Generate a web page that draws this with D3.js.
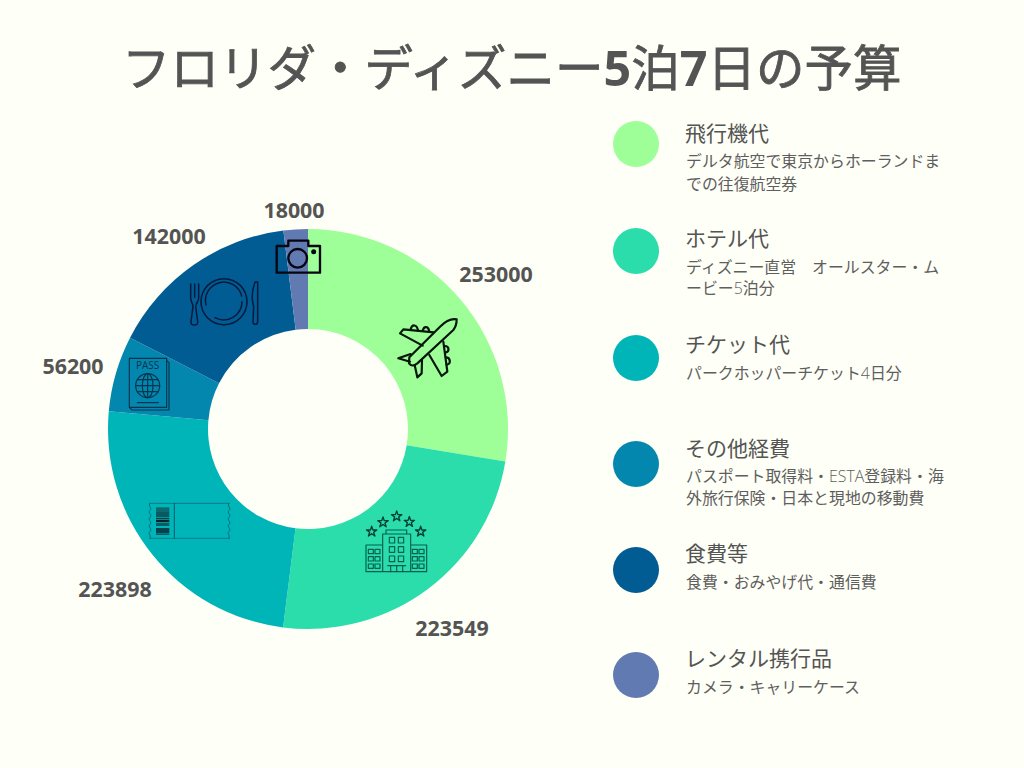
<!DOCTYPE html>
<html><head><meta charset="utf-8">
<script src="https://cdn.jsdelivr.net/npm/d3@7"></script>
<style>
html,body{margin:0;padding:0;background:#fefff6;overflow:hidden}
svg{display:block}
text{font-family:"Noto Sans CJK JP","Noto Sans",sans-serif;fill:#545454}
.num{font-family:"Open Sans",sans-serif;font-weight:700;font-size:21.4px}
.lat{font-family:"Open Sans",sans-serif;font-weight:300}
.desc{fill:#5e5e5e}
</style></head><body>
<svg id="c" width="1024" height="768"></svg>
<script>
const chartTitle = [["フロリダ・ディズニー",0],["5",1],["泊",0],["7",1],["日の予算",0]];
const categories = ["飛行機代","ホテル代","チケット代","その他経費","食費等","レンタル携行品"];
const values = [253000,223549,223898,56200,142000,18000];
const colors = ["#9efe98","#2bddab","#00b5b8","#0487ae","#025c94","#617ab1"];
const descriptions = [
  ["デルタ航空で東京からホーランドま","での往復航空券"],
  ["ディズニー直営　オールスター・ム","ービー5泊分"],
  ["パークホッパーチケット4日分"],
  ["パスポート取得料・ESTA登録料・海","外旅行保険・日本と現地の移動費"],
  ["食費・おみやげ代・通信費"],
  ["カメラ・キャリーケース"]
];
// layout (not data)
const cx=308, cy=429, R=200, r0=100;
const labelPos=[[496,282],[452,636],[115,597],[73,374],[169,244],[294,218]];
const legendY=[144,251,358,464,570,675];
const legendTitleY=[140.5,245.5,351.5,455.5,560.5,665.5];
const legendDescY=[[167,190],[273,294],[379],[482,504],[588],[693]];

const svg=d3.select("#c");
const bgText=svg.append("text").attr("x",122).attr("y",86).attr("font-size",48.5);
chartTitle.forEach(([t,b])=>{
  const s=bgText.append("tspan").text(t).attr("font-weight",b?700:400)
    .style("font-family",b?'"Open Sans",sans-serif':null);
  if(!b) s.attr("stroke","#545454").attr("stroke-width",0.8);
});

const pie=d3.pie().sort(null).value(d=>d);
const arc=d3.arc().innerRadius(r0).outerRadius(R);
const g=svg.append("g").attr("transform",`translate(${cx},${cy})`);
g.selectAll("path").data(pie(values)).join("path").attr("d",arc).attr("fill",(d,i)=>colors[i]);

svg.selectAll("text.num").data(values).join("text").attr("class","num")
  .attr("x",(d,i)=>labelPos[i][0]).attr("y",(d,i)=>labelPos[i][1]).attr("text-anchor","middle").text(d=>d);

// legend
const lg=svg.append("g");
lg.selectAll("circle").data(categories).join("circle")
  .attr("cx",636).attr("cy",(d,i)=>legendY[i]).attr("r",23).attr("fill",(d,i)=>colors[i]);
lg.selectAll("text.t").data(categories).join("text").attr("class","t")
  .attr("x",685).attr("y",(d,i)=>legendTitleY[i]).attr("font-size",21).text(d=>d);
descriptions.forEach((lines,i)=>lines.forEach((ln,j)=>{
  const t=lg.append("text").attr("class","desc").attr("x",686).attr("y",legendDescY[i][j]).attr("font-size",15.9);
  ln.split(/([0-9A-Z]+)/).forEach((p,k)=>{ if(p) t.append("tspan").attr("class",k%2?"lat":null).text(p); });
}));

// icons: drawn in 3x crop coordinates, so each group is scaled by 1/3
function icon(x,y,stroke,sw){return svg.append("g").attr("transform",`translate(${x},${y}) scale(${1/3})`)
  .attr("fill","none").attr("stroke",stroke).attr("stroke-width",sw).attr("stroke-linejoin","round").attr("stroke-linecap","round");}
function P(g,d){return g.append("path").attr("d",d);}

// plane
const pl=icon(340,300,"#04150a",6.5);
["M350 58C335 55 315 65 300 80L208 172L207 190C215 200 222 197 232 190L340 90C348 80 350 70 350 58Z",
 "M248 137L180 100L190 88L282 97","M310 125L322 215L305 228L268 165",
 "M212 162L175 175L210 185","M224 195L232 232L245 220L246 182",
 "M212 88C216 72 230 72 234 91","M248 92C252 76 266 78 268 96",
 "M314 138C328 138 330 155 316 158","M317 172C332 172 334 192 320 194"].forEach(d=>P(pl,d));

// hotel
const h=icon(340,500,"#05604f",3.5);
[[95,95],[129,67],[170,49],[208,66],[242,95]].forEach(([x,y])=>{
  h.append("path").attr("transform",`translate(${x},${y})`)
   .attr("d",d3.symbol(d3.symbolStar,300)()).attr("stroke-width",4).attr("stroke","#043f36");
});
P(h,"M128 215V102H212V215M138 102V90H200V102M128 135H78V215H128M212 135H260V215H212M78 215H260");
[[148,112],[175,112],[148,140],[175,140],[148,168],[175,168]].forEach(([x,y])=>h.append("rect").attr("x",x).attr("y",y).attr("width",16).attr("height",17));
[85,105,217,237].forEach(x=>[148,170,192].forEach(y=>h.append("rect").attr("x",x).attr("y",y).attr("width",15).attr("height",13)));
P(h,"M143 197H197M152 197V215M170 197V215M188 197V215");

// ticket
const tk=icon(130,490,"#07707f",2.5);
P(tk,"M60 40H298M60 145H298");
P(tk,"M133 40V145").attr("stroke","#045a6c").attr("stroke-width",3);
const wave="c-8 8 8 13 0 21c-8 8 8 13 0 21c-8 8 8 13 0 21c-8 8 8 13 0 21c-8 8 4 8 0 21";
P(tk,"M60 40"+wave).attr("stroke","#035a70");
P(tk,"M297 40"+wave).attr("stroke","#035a70");
[[52,14,"#0a6a70"],[66,16,"#0a5860"],[84,4,"#073c44"],[90,6,"#02262c"],[98,10,"#0a5a62"],[114,16,"#04424c"],[131,4,"#0a5a62"]]
 .forEach(([y,hh,c])=>tk.append("rect").attr("x",78).attr("y",y).attr("width",40).attr("height",hh).attr("fill",c).attr("stroke","none"));

// passport, fork/plate/knife, camera share the same crop origin
const pp=icon(100,190,"#04354f",3.5);
P(pp,"M200 512L207 518V660H96L88 652");
pp.append("rect").attr("x",88).attr("y",505).attr("width",112).attr("height",147);
P(pp,"M112 638H175");
pp.append("circle").attr("cx",143).attr("cy",587).attr("r",36);
pp.append("ellipse").attr("cx",143).attr("cy",587).attr("rx",16).attr("ry",36);
P(pp,"M143 551V623M107 587H179M112 569H174M112 605H174");
pp.append("text").attr("x",143).attr("y",538).attr("text-anchor","middle")
  .style("font-family",'"Open Sans",sans-serif').attr("font-size",30).style("fill","#04354f").attr("stroke","none").text("PASS");

const fd=icon(100,190,"#021a3c",4.5);
fd.append("circle").attr("cx",372).attr("cy",335).attr("r",69);
P(fd,"M318 345A55 55 0 0 1 425 318M426 335A55 55 0 0 1 345 383");
P(fd,"M272 282V325C272 335 279 340 279 350L273 395Q272 405 283 405Q294 405 293 395L287 350C287 340 296 335 296 325V282M284 282V322");
P(fd,"M465 276C456 300 455 330 461 350L459 395Q459 403 466 403Q473 403 473 395V276Z");

const cm=icon(100,190,"#05050f",7);
P(cm,"M530 168H565V152H625V168H660V248H530Z");
cm.append("circle").attr("cx",593).attr("cy",205).attr("r",28);
cm.append("circle").attr("cx",641).attr("cy",185).attr("r",4).attr("fill","#05050f");
</script></body></html>
